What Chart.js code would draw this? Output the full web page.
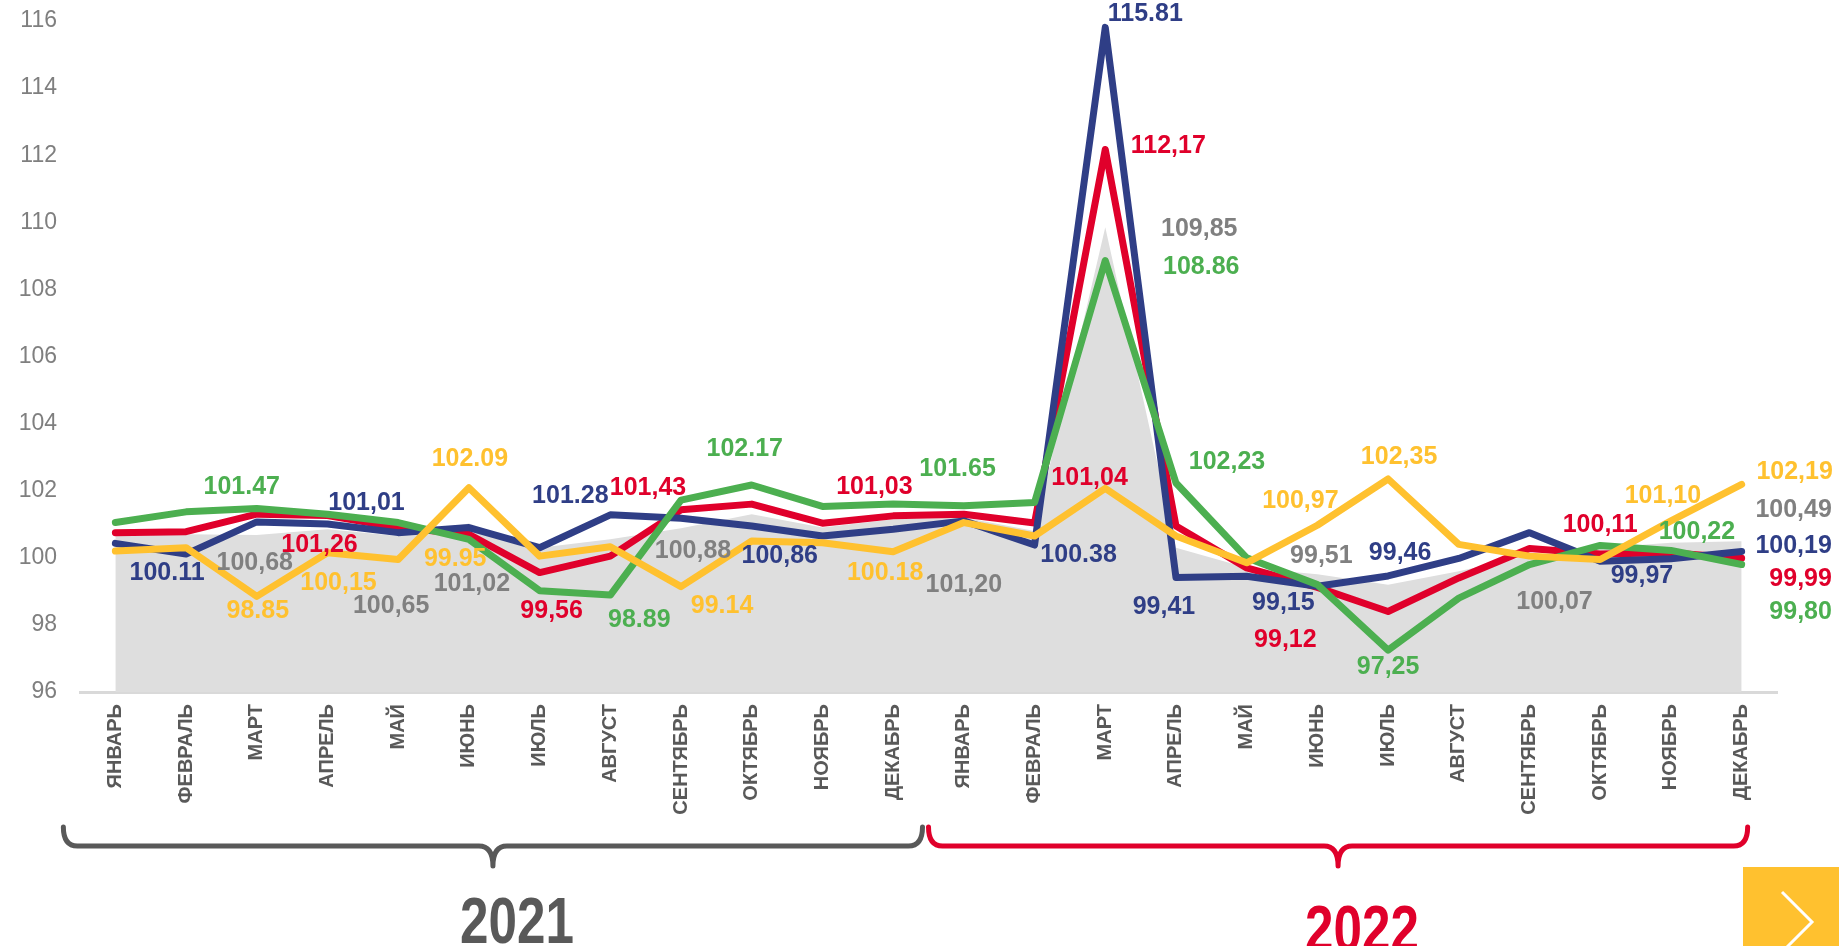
<!DOCTYPE html>
<html>
<head>
<meta charset="utf-8">
<script src="https://cdn.jsdelivr.net/npm/chart.js@4"></script>
<style>
  body { margin: 0; background: #fff; }
  #priceChart { display: block; }
</style>
</head>
<body>
<canvas id="priceChart" width="1839" height="946"></canvas>
<script>
// Data for the chart
const months = ['ЯНВАРЬ', 'ФЕВРАЛЬ', 'МАРТ', 'АПРЕЛЬ', 'МАЙ', 'ИЮНЬ', 'ИЮЛЬ', 'АВГУСТ', 'СЕНТЯБРЬ', 'ОКТЯБРЬ', 'НОЯБРЬ', 'ДЕКАБРЬ'];
const categories = months.concat(months);
const years = ['2021', '2022'];

const greyArea = [100.65, 100.70, 100.68, 100.85, 100.65, 101.02, 100.30, 100.55, 100.88, 101.30, 100.90, 101.15,
                  101.20, 100.80, 109.85, 100.30, 99.70, 99.51, 99.20, 99.60, 100.07, 100.30, 100.45, 100.49];
const redLine = [100.75, 100.78, 101.30, 101.26, 100.90, 100.70, 99.56, 100.05, 101.43, 101.60, 101.03, 101.25,
                 101.30, 101.04, 112.17, 100.95, 99.70, 99.12, 98.40, 99.40, 100.28, 100.11, 100.15, 99.99];
const blueLine = [100.43, 100.11, 101.07, 101.01, 100.75, 100.90, 100.30, 101.28, 101.18, 100.95, 100.65, 100.85,
                  101.10, 100.38, 115.81, 99.41, 99.45, 99.15, 99.46, 99.98, 100.75, 99.90, 99.97, 100.19];
const greenLine = [101.05, 101.37, 101.47, 101.30, 101.05, 100.55, 99.02, 98.89, 101.72, 102.17, 101.53, 101.60,
                   101.55, 101.65, 108.86, 102.23, 100.00, 99.20, 97.25, 98.80, 99.80, 100.37, 100.22, 99.80];
const yellowLine = [100.20, 100.30, 98.85, 100.15, 99.95, 102.09, 100.05, 100.33, 99.14, 100.50, 100.45, 100.18,
                    101.05, 100.65, 102.07, 100.65, 99.85, 100.97, 102.35, 100.40, 100.05, 99.95, 101.10, 102.19];

const series = { grey: greyArea, red: redLine, blue: blueLine, green: greenLine, yellow: yellowLine };
const colors = { grey: '#808080', red: '#e0002b', blue: '#2f3e86', green: '#4caf50', yellow: '#ffc12f' };

// value labels: [series, month index, text]
const valueLabels = [
    ['green', 2, '101.47'], ['blue', 3, '101,01'], ['blue', 1, '100.11'], ['grey', 2, '100,68'],
    ['red', 3, '101,26'], ['yellow', 2, '98.85'], ['yellow', 3, '100,15'], ['grey', 4, '100,65'],
    ['yellow', 4, '99.95'], ['yellow', 5, '102.09'], ['grey', 5, '101,02'], ['blue', 7, '101.28'],
    ['red', 8, '101,43'], ['red', 6, '99,56'], ['green', 7, '98.89'], ['green', 9, '102.17'],
    ['grey', 8, '100,88'], ['blue', 9, '100,86'], ['yellow', 8, '99.14'], ['red', 10, '101,03'],
    ['yellow', 11, '100.18'], ['green', 13, '101.65'], ['grey', 12, '101,20'], ['red', 13, '101,04'],
    ['blue', 13, '100.38'], ['green', 15, '102,23'], ['blue', 15, '99,41'], ['yellow', 17, '100,97'],
    ['grey', 17, '99,51'], ['blue', 17, '99,15'], ['blue', 18, '99,46'], ['red', 17, '99,12'],
    ['yellow', 18, '102,35'], ['green', 18, '97,25'], ['grey', 20, '100,07'], ['red', 21, '100,11'],
    ['blue', 22, '99,97'], ['yellow', 22, '101,10'], ['green', 22, '100,22'], ['yellow', 23, '102,19'],
    ['grey', 23, '100,49'], ['blue', 23, '100,19'], ['red', 23, '99,99'], ['green', 23, '99,80'],
    ['blue', 14, '115.81'], ['red', 14, '112,17'], ['grey', 14, '109,85'], ['green', 14, '108.86']
];
// label offsets from their point, px (same order as valueLabels)
const labelOffsets = [
    [-15, -21], [39, -21], [-19, 19], [-2, 28],
    [-8, 30], [1, 15], [11, 30], [-7, 70],
    [57, 0], [1, -29], [3, 61], [-40, -19],
    [-33, -22], [12, 39], [29, 25], [-7, -36],
    [12, 23], [28, 30], [41, 19], [52, -36],
    [-8, 21], [-77, -33], [0, 68], [55, -45],
    [44, 10], [51, -21], [-12, 30], [-17, -24],
    [4, -18], [-34, 17], [12, -23], [-32, 53],
    [11, -22], [0, 17], [25, 47], [0, -29],
    [-29, 17], [-8, -25], [26, -18], [53, -12],
    [52, -31], [52, -5], [59, 21], [59, 48],
    [40, -13], [63, -3], [94, 2], [96, 7]
];

function lineSet(key, order) {
    return {
        data: series[key],
        borderColor: colors[key],
        backgroundColor: colors[key],
        borderWidth: 7,
        borderCapStyle: 'round',
        borderJoinStyle: 'round',
        pointRadius: 0,
        tension: 0,
        fill: false,
        order: order
    };
}

const valueLabelPlugin = {
    id: 'valueLabels',
    afterDatasetsDraw(chart) {
        const { ctx, scales: { x, y } } = chart;
        ctx.save();
        ctx.font = 'bold 25px "Liberation Sans", Arial, sans-serif';
        ctx.textAlign = 'center';
        ctx.textBaseline = 'middle';
        valueLabels.forEach(([key, i, text], n) => {
            const [dx, dy] = labelOffsets[n];
            ctx.fillStyle = colors[key];
            ctx.fillText(text, x.getPixelForValue(i) + dx, y.getPixelForValue(series[key][i]) + dy);
        });
        ctx.restore();
    }
};

// year braces under the axis + corner button
const bracePlugin = {
    id: 'braces',
    afterDraw(chart) {
        const { ctx, scales: { x } } = chart;
        const mid = (x.getPixelForValue(11) + x.getPixelForValue(12)) / 2;
        const spans = [
            [x.getPixelForValue(0) - 52, mid - 6, '#595959', 943],
            [mid, x.getPixelForValue(23) + 6, '#e0002b', 951]
        ];
        const top = 827, bar = 846, tip = 866, r = 14;
        spans.forEach(([x0, x1, col, base], k) => {
            const xc = (x0 + x1) / 2;
            ctx.save();
            ctx.strokeStyle = col;
            ctx.lineWidth = 5;
            ctx.lineCap = 'round';
            ctx.beginPath();
            ctx.moveTo(x0, top);
            ctx.quadraticCurveTo(x0, bar, x0 + r, bar);
            ctx.lineTo(xc - r, bar);
            ctx.quadraticCurveTo(xc, bar, xc, tip);
            ctx.moveTo(xc, tip);
            ctx.quadraticCurveTo(xc, bar, xc + r, bar);
            ctx.lineTo(x1 - r, bar);
            ctx.quadraticCurveTo(x1, bar, x1, top);
            ctx.stroke();
            ctx.fillStyle = col;
            ctx.translate(xc + 24, base);
            ctx.scale(0.8, 1);
            ctx.font = 'bold 64px "Liberation Sans", Arial, sans-serif';
            ctx.textAlign = 'center';
            ctx.textBaseline = 'alphabetic';
            ctx.fillText(years[k], 0, 0);
            ctx.restore();
        });
        // yellow arrow button
        ctx.save();
        ctx.fillStyle = '#ffc12f';
        ctx.fillRect(1743, 867, 96, 79);
        ctx.strokeStyle = '#ffffff';
        ctx.lineWidth = 3;
        ctx.beginPath();
        ctx.moveTo(1782, 892);
        ctx.lineTo(1812, 922);
        ctx.lineTo(1787, 947);
        ctx.stroke();
        ctx.restore();
    }
};

const config = {
    type: 'line',
    data: {
        labels: categories,
        datasets: [
            {
                data: greyArea,
                borderWidth: 0,
                backgroundColor: '#dedede',
                pointRadius: 0,
                fill: 'start',
                tension: 0,
                order: 4
            },
            lineSet('red', 3),
            lineSet('blue', 2),
            lineSet('green', 1),
            lineSet('yellow', 0)
        ]
    },
    options: {
        responsive: false,
        animation: false,
        layout: { padding: { top: 21, right: 62, left: 0, bottom: 0 } },
        plugins: {
            legend: { display: false },
            title: { display: false },
            tooltip: { enabled: false }
        },
        scales: {
            x: {
                offset: true,
                grid: { display: false, drawTicks: false },
                border: { display: true, color: '#d9d9d9', width: 3 },
                ticks: {
                    autoSkip: false,
                    minRotation: 90,
                    maxRotation: 90,
                    padding: 12,
                    color: '#595959',
                    font: { family: '"Liberation Sans", Arial, sans-serif', size: 20, weight: 'bold' }
                },
                afterFit(scale) {
                    scale.height = 254;
                    scale.paddingLeft = 0;
                    scale.paddingRight = 0;
                    scale.paddingTop = 0;
                    scale.paddingBottom = 0;
                }
            },
            y: {
                min: 96,
                max: 116,
                grid: { display: false, drawTicks: false },
                border: { display: false },
                ticks: {
                    stepSize: 2,
                    padding: 23,
                    color: '#7f7f7f',
                    font: { family: '"Liberation Sans", Arial, sans-serif', size: 23 }
                },
                afterFit(scale) {
                    scale.width = 80;
                    scale.paddingTop = 0;
                    scale.paddingBottom = 0;
                }
            }
        }
    },
    plugins: [valueLabelPlugin, bracePlugin]
};

// Render the chart
const ctx = document.getElementById('priceChart').getContext('2d');
const priceChart = new Chart(ctx, config);
</script>
</body>
</html>
